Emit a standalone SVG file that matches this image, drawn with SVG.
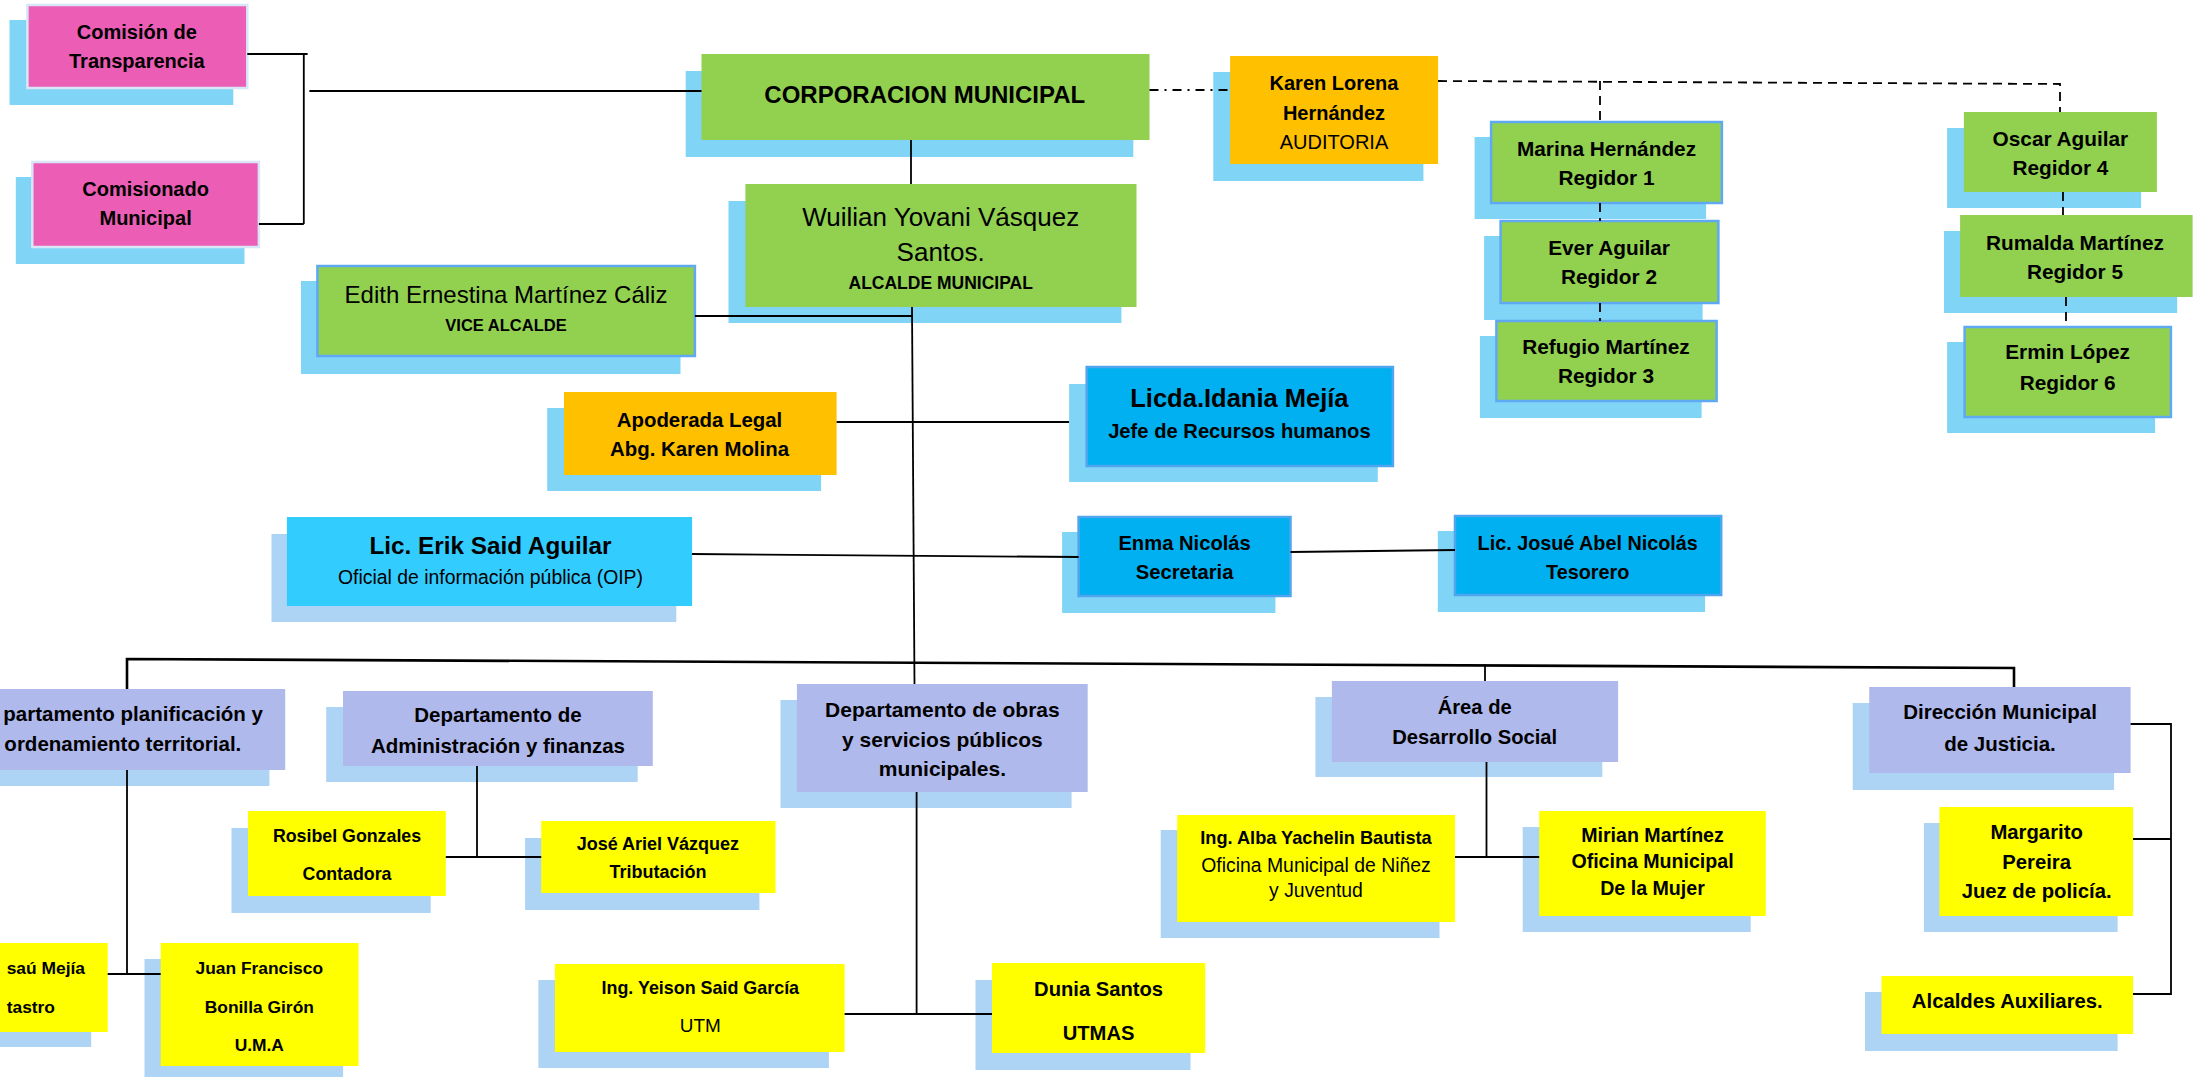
<svg xmlns="http://www.w3.org/2000/svg" width="2199" height="1077" viewBox="0 0 2199 1077">
<style>
text{font-family:"Liberation Sans",Arial,sans-serif;text-anchor:middle;fill:#000}
.b{font-weight:bold}
.e{text-anchor:end}
.sh{fill:#80d5f6}
.sh2{fill:#add3f5}
.pink{fill:#ec5eb6;stroke:#d8e6f7;stroke-width:2.5}
.green{fill:#92d050}
.gb{fill:#92d050;stroke:#5fa9f2;stroke-width:2.5}
.orange{fill:#ffc000}
.cyan{fill:#33ccff}
.blue{fill:#00b0f0;stroke:#4fa6ee;stroke-width:2.5}
.lav{fill:#b0b9ec}
.yel{fill:#ffff00}
.ln{stroke:#000;stroke-width:1.8;fill:none}
.big{stroke:#000;stroke-width:2.6;fill:none}
.dash{stroke:#000;stroke-width:1.8;fill:none;stroke-dasharray:9 6}
.dd{stroke:#000;stroke-width:1.8;fill:none;stroke-dasharray:9 6 2 6}
</style>
<rect width="2199" height="1077" fill="#fff"/>

<g id="n-comision-transparencia">
<rect class="sh" x="9.5" y="20" width="223.8" height="85"/>
<rect class="pink" x="27.4" y="5" width="219.9" height="83"/>
<text class="b" x="136.8" y="38.8" font-size="20">Comisión de</text>
<text class="b" x="136.8" y="67.8" font-size="20">Transparencia</text>
</g>
<g id="n-comisionado">
<rect class="sh" x="15.8" y="177" width="228.7" height="87"/>
<rect class="pink" x="32.3" y="162" width="226.6" height="85"/>
<text class="b" x="145.6" y="195.8" font-size="20">Comisionado</text>
<text class="b" x="145.6" y="224.8" font-size="20">Municipal</text>
</g>
<g id="n-corporacion">
<rect class="sh" x="685.7" y="71" width="447.6" height="86"/>
<rect class="green" x="701.5" y="54" width="448" height="86"/>
<text class="b" x="924.8" y="103.2" font-size="24">CORPORACION MUNICIPAL</text>
</g>
<g id="n-alcalde">
<rect class="sh" x="728.5" y="201" width="392.9" height="122"/>
<rect class="green" x="745.4" y="184" width="391.1" height="123"/>
<text x="940.7" y="225.8" font-size="26">Wuilian Yovani Vásquez</text>
<text x="940.7" y="260.8" font-size="26">Santos.</text>
<text class="b" x="940.7" y="289" font-size="17.5">ALCALDE MUNICIPAL</text>
</g>
<g id="n-vicealcalde">
<rect class="sh" x="301" y="281" width="379.5" height="93"/>
<rect class="gb" x="317.4" y="266" width="377.5" height="90"/>
<text x="506" y="303.2" font-size="24">Edith Ernestina Martínez Cáliz</text>
<text class="b" x="506" y="330.6" font-size="16.5">VICE ALCALDE</text>
</g>
<g id="n-auditoria">
<rect class="sh" x="1213.3" y="72" width="210.1" height="109"/>
<rect class="orange" x="1230.1" y="56" width="208" height="108"/>
<text class="b" x="1334" y="89.8" font-size="20">Karen Lorena</text>
<text class="b" x="1334" y="119.8" font-size="20">Hernández</text>
<text x="1334" y="148.8" font-size="20">AUDITORIA</text>
</g>
<g id="n-regidor1">
<rect class="sh" x="1474.6" y="137" width="231.5" height="82"/>
<rect class="gb" x="1491.1" y="122" width="230.8" height="81"/>
<text class="b" x="1606.5" y="156" font-size="20.8">Marina Hernández</text>
<text class="b" x="1606.5" y="185" font-size="20.8">Regidor 1</text>
</g>
<g id="n-regidor2">
<rect class="sh" x="1484.1" y="236" width="218.5" height="84"/>
<rect class="gb" x="1500.6" y="221" width="217.8" height="82"/>
<text class="b" x="1609" y="255" font-size="20.8">Ever Aguilar</text>
<text class="b" x="1609" y="284" font-size="20.8">Regidor 2</text>
</g>
<g id="n-regidor3">
<rect class="sh" x="1479.9" y="336" width="221.7" height="82"/>
<rect class="gb" x="1496.4" y="321" width="220.2" height="80"/>
<text class="b" x="1606" y="354" font-size="20.8">Refugio Martínez</text>
<text class="b" x="1606" y="383" font-size="20.8">Regidor 3</text>
</g>
<g id="n-regidor4">
<rect class="sh" x="1947.1" y="128" width="194" height="80"/>
<rect class="green" x="1963.9" y="112" width="193" height="80"/>
<text class="b" x="2060.4" y="146" font-size="20.8">Oscar Aguilar</text>
<text class="b" x="2060.4" y="175" font-size="20.8">Regidor 4</text>
</g>
<g id="n-regidor5">
<rect class="sh" x="1944" y="231" width="233.2" height="82"/>
<rect class="green" x="1960.1" y="215" width="232.5" height="82"/>
<text class="b" x="2075" y="250" font-size="20.8">Rumalda Martínez</text>
<text class="b" x="2075" y="279" font-size="20.8">Regidor 5</text>
</g>
<g id="n-regidor6">
<rect class="sh" x="1947.1" y="342" width="208" height="91"/>
<rect class="gb" x="1964.6" y="327" width="206.3" height="90"/>
<text class="b" x="2067.6" y="359" font-size="20.8">Ermin López</text>
<text class="b" x="2067.6" y="390" font-size="20.8">Regidor 6</text>
</g>
<g id="n-apoderada">
<rect class="sh" x="547.2" y="408" width="273.9" height="83"/>
<rect class="orange" x="564" y="392" width="272.6" height="83"/>
<text class="b" x="699.5" y="427" font-size="20.4">Apoderada Legal</text>
<text class="b" x="699.5" y="456" font-size="20.4">Abg. Karen Molina</text>
</g>
<g id="n-rrhh">
<rect class="sh" x="1069.1" y="384" width="308.7" height="98"/>
<rect class="blue" x="1086.7" y="367" width="306.2" height="99"/>
<text class="b" x="1239.4" y="406.7" font-size="25.5">Licda.Idania Mejía</text>
<text class="b" x="1239.4" y="437.9" font-size="20.2">Jefe de Recursos humanos</text>
</g>
<g id="n-oip">
<rect class="sh2" x="271.5" y="534" width="404.8" height="88"/>
<rect class="cyan" x="286.9" y="517" width="405.2" height="89"/>
<text class="b" x="490.5" y="554.3" font-size="24.3">Lic. Erik Said Aguilar</text>
<text x="490.5" y="583.6" font-size="19.4">Oficial de información pública (OIP)</text>
</g>
<g id="n-secretaria">
<rect class="sh" x="1062.1" y="532" width="213.3" height="81"/>
<rect class="blue" x="1078.6" y="517" width="211.9" height="79"/>
<text class="b" x="1184.6" y="549.9" font-size="20.2">Enma Nicolás</text>
<text class="b" x="1184.6" y="578.9" font-size="20.2">Secretaria</text>
</g>
<g id="n-tesorero">
<rect class="sh" x="1437.8" y="531" width="267.3" height="81"/>
<rect class="blue" x="1455" y="516" width="266.2" height="79"/>
<text class="b" x="1587.7" y="549.7" font-size="19.8">Lic. Josué Abel Nicolás</text>
<text class="b" x="1587.7" y="578.7" font-size="19.8">Tesorero</text>
</g>
<g id="n-planificacion">
<rect class="sh2" x="-59" y="705" width="328.4" height="81"/>
<rect class="lav" x="-43" y="689" width="328.2" height="81"/>
<text class="b e" x="263" y="721" font-size="20.5">partamento planificación y</text>
<text class="b e" x="241.3" y="751" font-size="20.5">ordenamiento territorial.</text>
</g>
<g id="n-administracion">
<rect class="sh2" x="326.2" y="707" width="311.5" height="75"/>
<rect class="lav" x="343" y="691" width="309.8" height="75"/>
<text class="b" x="498" y="722" font-size="20.5">Departamento de</text>
<text class="b" x="498" y="753" font-size="20.5">Administración y finanzas</text>
</g>
<g id="n-obras">
<rect class="sh2" x="780.5" y="700" width="291.1" height="108"/>
<rect class="lav" x="796.9" y="684" width="290.8" height="108"/>
<text class="b" x="942.4" y="717.1" font-size="21">Departamento de obras</text>
<text class="b" x="942.4" y="747.1" font-size="21">y servicios públicos</text>
<text class="b" x="942.4" y="776.1" font-size="21">municipales.</text>
</g>
<g id="n-desarrollo">
<rect class="sh2" x="1315.4" y="697" width="286.9" height="80"/>
<rect class="lav" x="1331.9" y="681" width="286.2" height="81"/>
<text class="b" x="1474.7" y="713.9" font-size="20.2">Área de</text>
<text class="b" x="1474.7" y="743.9" font-size="20.2">Desarrollo Social</text>
</g>
<g id="n-justicia">
<rect class="sh2" x="1852.7" y="703" width="261.4" height="87"/>
<rect class="lav" x="1869.2" y="687" width="261.4" height="86"/>
<text class="b" x="2000" y="718.9" font-size="20.5">Dirección Municipal</text>
<text class="b" x="2000" y="750.9" font-size="20.5">de Justicia.</text>
</g>
<g id="n-contadora">
<rect class="sh2" x="231.5" y="828" width="199.2" height="85"/>
<rect class="yel" x="248" y="811" width="197.8" height="85"/>
<text class="b" x="347" y="842" font-size="17.8">Rosibel Gonzales</text>
<text class="b" x="347" y="880" font-size="17.8">Contadora</text>
</g>
<g id="n-tributacion">
<rect class="sh2" x="525.1" y="838" width="234.3" height="72"/>
<rect class="yel" x="541.2" y="821" width="234.3" height="72"/>
<text class="b" x="657.9" y="850.1" font-size="18">José Ariel Vázquez</text>
<text class="b" x="657.9" y="878.1" font-size="18">Tributación</text>
</g>
<g id="n-catastro">
<rect class="sh2" x="-106" y="959" width="197.2" height="88"/>
<rect class="yel" x="-90" y="943" width="197.7" height="89"/>
<text class="b e" x="85" y="974" font-size="17.4">saú Mejía</text>
<text class="b e" x="55" y="1013" font-size="17.4">tastro</text>
</g>
<g id="n-uma">
<rect class="sh2" x="144.5" y="959" width="198.6" height="125"/>
<rect class="yel" x="160.7" y="943" width="197.8" height="123"/>
<text class="b" x="259.3" y="974" font-size="17.4">Juan Francisco</text>
<text class="b" x="259.3" y="1013" font-size="17.4">Bonilla Girón</text>
<text class="b" x="259.3" y="1051" font-size="17.4">U.M.A</text>
</g>
<g id="n-utm">
<rect class="sh2" x="538.4" y="980" width="290.5" height="88"/>
<rect class="yel" x="554.9" y="964" width="289.7" height="88"/>
<text class="b" x="700.3" y="994" font-size="17.9">Ing. Yeison Said García</text>
<text x="700.3" y="1032.4" font-size="18.9">UTM</text>
</g>
<g id="n-utmas">
<rect class="sh2" x="975.5" y="980" width="215" height="90"/>
<rect class="yel" x="992" y="963" width="213.2" height="90"/>
<text class="b" x="1098.6" y="995.9" font-size="20.2">Dunia Santos</text>
<text class="b" x="1098.6" y="1039.9" font-size="20.2">UTMAS</text>
</g>
<g id="n-ninez">
<rect class="sh2" x="1160.7" y="830" width="278.8" height="108"/>
<rect class="yel" x="1177.2" y="815" width="277.8" height="107"/>
<text class="b" x="1316" y="844.2" font-size="18.2">Ing. Alba Yachelin Bautista</text>
<text x="1316" y="871.6" font-size="19.4">Oficina Municipal de Niñez</text>
<text x="1316" y="896.6" font-size="19.4">y Juventud</text>
</g>
<g id="n-mujer">
<rect class="sh2" x="1522.7" y="827" width="228" height="105"/>
<rect class="yel" x="1539.2" y="811" width="226.6" height="105"/>
<text class="b" x="1652.5" y="841.7" font-size="19.6">Mirian Martínez</text>
<text class="b" x="1652.5" y="867.7" font-size="19.6">Oficina Municipal</text>
<text class="b" x="1652.5" y="894.7" font-size="19.6">De la Mujer</text>
</g>
<g id="n-juez">
<rect class="sh2" x="1924" y="823" width="193.6" height="109"/>
<rect class="yel" x="1939.4" y="807" width="193.6" height="109"/>
<text class="b" x="2036.6" y="838.9" font-size="20.3">Margarito</text>
<text class="b" x="2036.6" y="868.9" font-size="20.3">Pereira</text>
<text class="b" x="2036.6" y="897.9" font-size="20.3">Juez de policía.</text>
</g>
<g id="n-auxiliares">
<rect class="sh2" x="1865" y="992" width="252.6" height="59"/>
<rect class="yel" x="1881.5" y="976" width="251.5" height="58"/>
<text class="b" x="2007.3" y="1007.9" font-size="20.3">Alcaldes Auxiliares.</text>
</g>

<g id="connectors">
<path class="ln" d="M247.3 54H307.6M303.8 54V224M258.9 224H303.8"/>
<path class="ln" d="M309.4 91H701.5"/>
<path class="dd" d="M1149.5 90H1230"/>
<path class="dash" d="M1438 81L2060 84V112"/>
<path class="dash" d="M1600 81V122M1600 203V221M1600 303V321"/>
<path class="dash" d="M2063 192V215M2066 297V327"/>
<path class="ln" d="M911 140V184"/>
<path class="ln" d="M912 307L914.5 684"/>
<path class="ln" d="M694.9 316H913"/>
<path class="ln" d="M836.6 422H1069"/>
<path class="ln" d="M692 554L1078.6 557"/>
<path class="ln" d="M1290.5 552L1455 550"/>
<path class="big" d="M127 689V659L2014 668V687"/>
<path class="ln" d="M1485 664.5V681"/>
<path class="ln" d="M127 770V974M107.7 974H160.7"/>
<path class="ln" d="M477 766V857M445.8 857H541.2"/>
<path class="ln" d="M916.6 792V1013M844.6 1014H992"/>
<path class="ln" d="M1486.5 762V857M1455 857H1539.2"/>
<path class="ln" d="M2130.6 724H2171V994H2133M2133 839H2171"/>
</g>
</svg>
